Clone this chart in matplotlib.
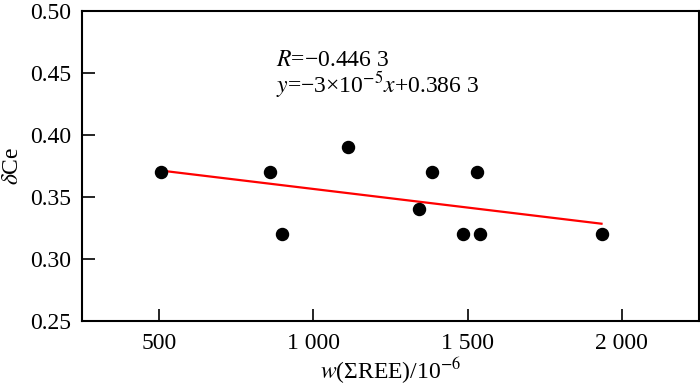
from matplotlib import pyplot as pl
import numpy as np

# scatter data
ree = [505, 858, 897, 1114, 1341, 1384, 1485, 1532, 1540, 1934]
dce = [0.37, 0.37, 0.32, 0.39, 0.34, 0.37, 0.32, 0.37, 0.32, 0.32]

# regression from the annotation
slope = -3e-5
intercept = 0.3863

xticks = [500, 1000, 1500, 2000]
xticklabels = ['500', '1 000', '1 500', '2 000']
yticks = [0.25, 0.30, 0.35, 0.40, 0.45, 0.50]
yticklabels = ['0.25', '0.30', '0.35', '0.40', '0.45', '0.50']

pl.rcParams['font.family'] = ['Liberation Serif', 'DejaVu Serif']
pl.rcParams['mathtext.fontset'] = 'stix'

fig = pl.figure(figsize=(7, 3.87), dpi=100)
ax = fig.add_axes([0.117, 0.171, 0.8816, 0.8014])

ax.scatter(ree, dce, s=75, color='black', zorder=3)

fit_x = np.array([min(ree), max(ree)])
ax.plot(fit_x, slope*fit_x + intercept, color='red', linewidth=1.6, zorder=2)

ax.set_xlim(250, 2250)
ax.set_ylim(0.25, 0.50)
ax.set_xticks(xticks)
ax.set_xticklabels(xticklabels)
ax.set_yticks(yticks)
ax.set_yticklabels(yticklabels)

ax.tick_params(direction='in', length=9, width=1.2, labelsize=17,
               colors='black')
ax.tick_params(axis='x', pad=9)
ax.tick_params(axis='y', pad=8)
for s in ax.spines.values():
    s.set_linewidth(1.5)

ax.set_xlabel(r'$w$(ΣREE)/10$^{-6}$', fontsize=17, labelpad=1)
ax.set_ylabel(r'$\delta$Ce', fontsize=17, labelpad=5)

ax.text(0.314, 0.822, r'$R$=−0.446 3', transform=ax.transAxes, fontsize=17)
ax.text(0.314, 0.735, r'$y$=−3×10$^{-5}$$x$+0.386 3',
        transform=ax.transAxes, fontsize=17)

fig.savefig('out.png', dpi=100)
